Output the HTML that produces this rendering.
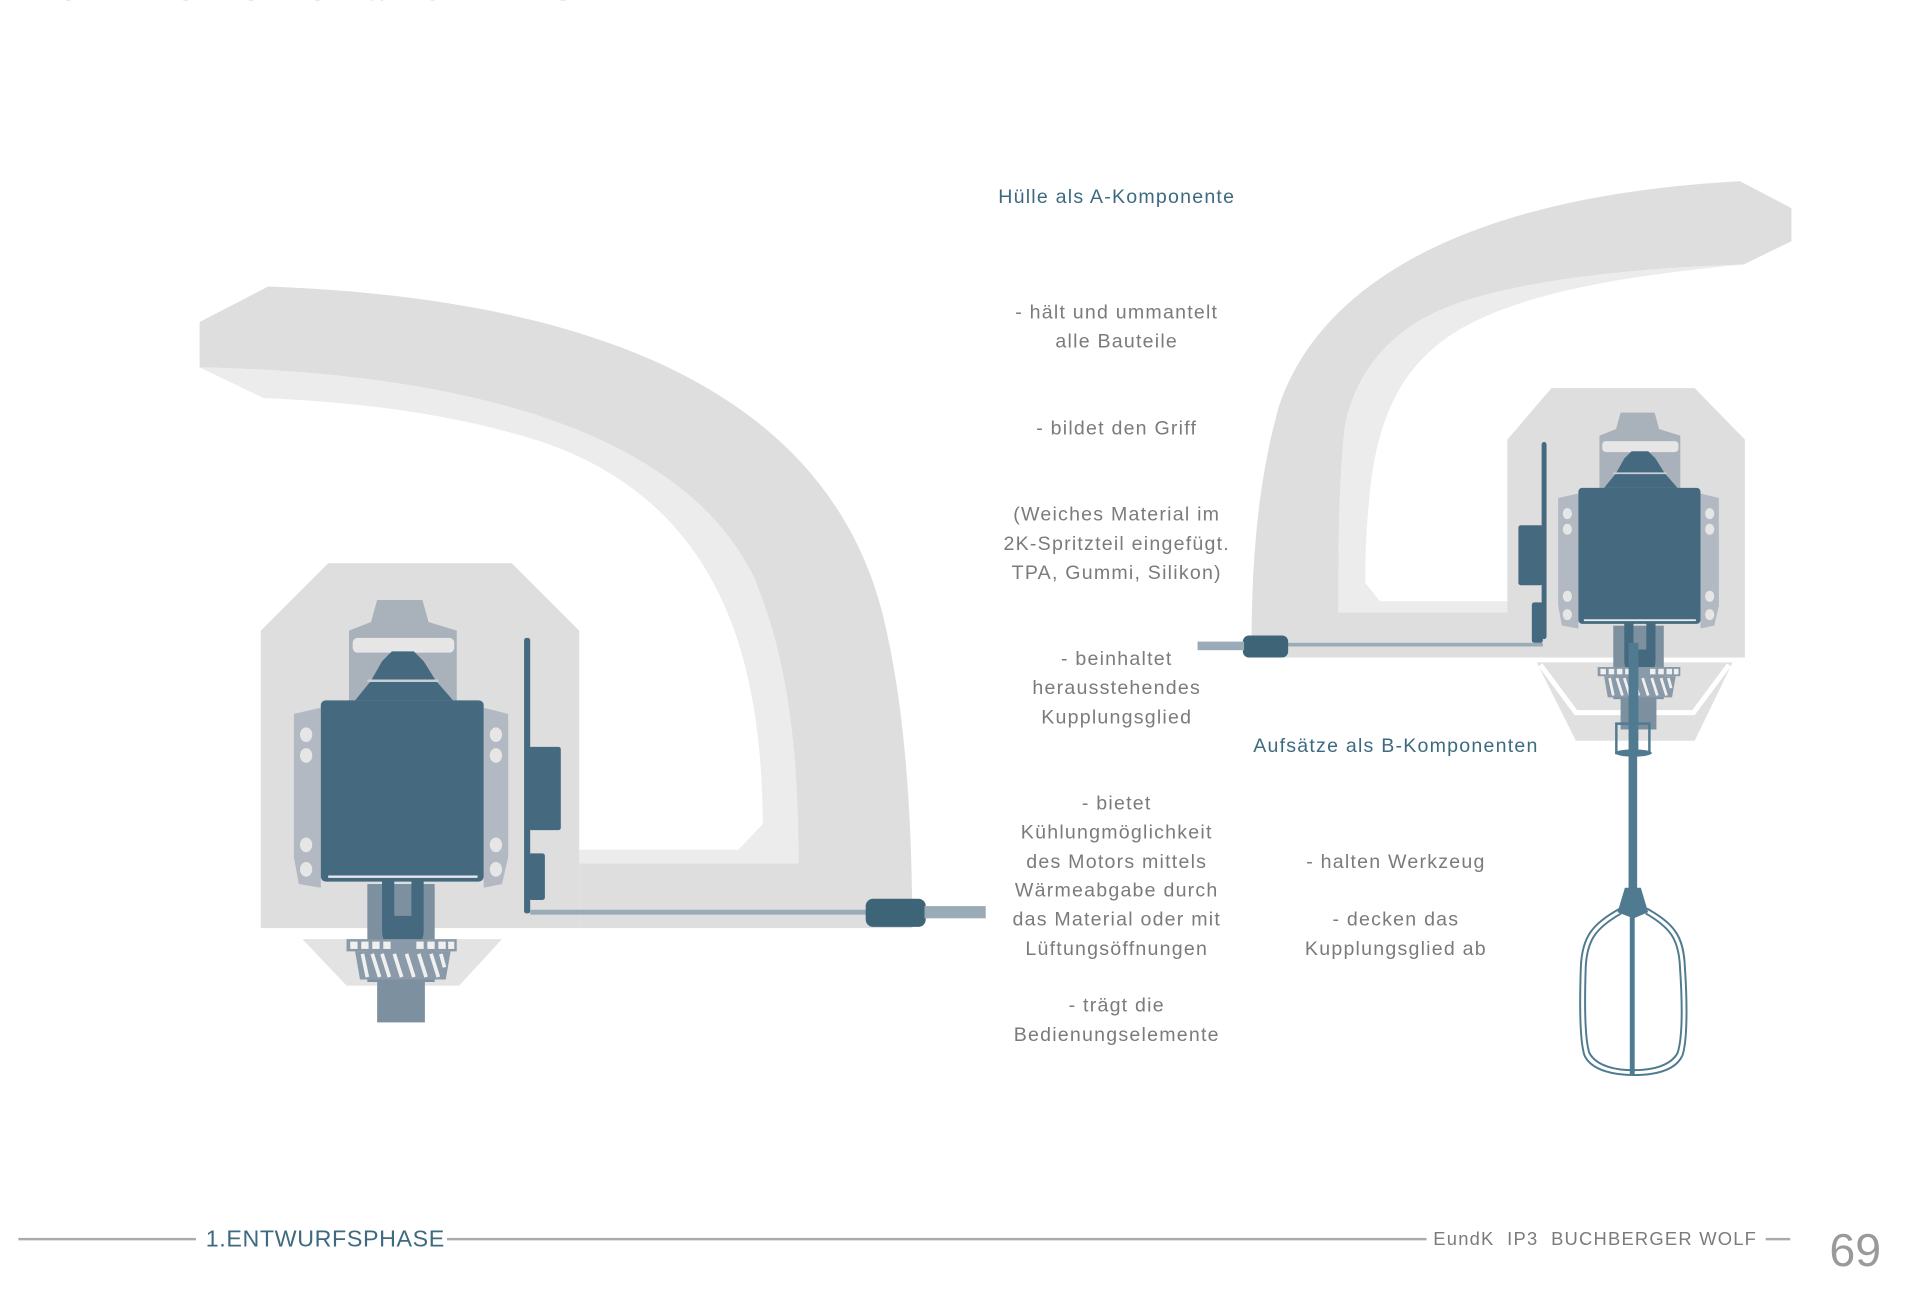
<!DOCTYPE html>
<html><head><meta charset="utf-8"><style>
html,body{margin:0;padding:0;background:#fff;}
svg{display:block;}
text{font-family:"Liberation Sans",sans-serif;}
</style></head><body>
<svg width="1920" height="1293" viewBox="0 0 1568 1056" preserveAspectRatio="none" xmlns="http://www.w3.org/2000/svg">
<defs>
<g id="motor">
  <path d="M308,490 L345,490 L350,508 L373,515 L373,575 L285,575 L285,515 L303,508 Z" fill="#a9b1bb"/>
  <rect x="288" y="521" width="83" height="12" rx="4" fill="#e6e6e6"/>
  <path d="M240,583 L262,578 L262,725 L244,722 L240,700 Z" fill="#b2b9c2"/>
  <path d="M395,578 L415,583 L415,700 L410,722 L395,725 Z" fill="#b2b9c2"/>
  <ellipse cx="250" cy="600" rx="5" ry="6" fill="#e6e6e6"/><ellipse cx="250" cy="617" rx="5" ry="6" fill="#e6e6e6"/>
  <ellipse cx="250" cy="690" rx="5" ry="6" fill="#e6e6e6"/><ellipse cx="250" cy="710" rx="5" ry="6" fill="#e6e6e6"/>
  <ellipse cx="405" cy="600" rx="5" ry="6" fill="#e6e6e6"/><ellipse cx="405" cy="617" rx="5" ry="6" fill="#e6e6e6"/>
  <ellipse cx="405" cy="690" rx="5" ry="6" fill="#e6e6e6"/><ellipse cx="405" cy="710" rx="5" ry="6" fill="#e6e6e6"/>
  <path d="M290,572 L303,556 L312,540 L320,532 L338,532 L346,540 L356,556 L370,572 Z" fill="#456a80"/>
  <path d="M300,556 L358,556" stroke="#c9ced4" stroke-width="2"/>
  <rect x="262" y="572" width="133" height="148" rx="4" fill="#456a80"/>
  <path d="M268,716 L390,716" stroke="#e8e8e8" stroke-width="2"/>
  <rect x="300" y="722" width="55" height="80" fill="#7d90a0"/>
  <rect x="308" y="800" width="39" height="35" fill="#7d90a0"/>
  <path d="M312,718 L312,760 Q312,772 322,772 L336,772 Q346,772 346,760 L346,718 L336,718 L336,748 L322,748 L322,718 Z" fill="#456a80"/>
  <rect x="283" y="767" width="90" height="10" fill="#8a9aa8"/>
  <g fill="#f0f0f0"><rect x="286" y="769" width="6" height="6"/><rect x="295" y="769" width="6" height="6"/><rect x="304" y="769" width="6" height="6"/><rect x="313" y="769" width="6" height="6"/><rect x="340" y="769" width="6" height="6"/><rect x="349" y="769" width="6" height="6"/><rect x="358" y="769" width="6" height="6"/><rect x="366" y="769" width="5" height="6"/></g>
  <path d="M290,777 L368,777 L364,800 L294,800 Z" fill="#8a9aa8"/>
  <path d="M296,779 L300,798 M304,779 L310,798 M312,779 L318,798 M322,779 L328,798 M332,779 L338,798 M342,779 L348,798 M352,779 L358,798 M360,779 L363,790" stroke="#f0f0f0" stroke-width="3"/>
</g>
</defs>

<text x="10" y="0" font-size="22" fill="#4a6575" letter-spacing="3" font-weight="bold" opacity="0.6">BAUTEILESTRUKTUR &amp; KONZEPTSKIZZEN</text>

<!-- LEFT handle -->
<path d="M163,263 L219,234 C520,245 690,340 725,520 C738,580 745,660 745,758 L473,758 L473,705 L652,705 C652,620 645,540 615,470 C560,360 400,305 163,300 Z" fill="#dedede"/>
<path d="M163,300 C400,305 560,360 615,470 C645,540 652,620 652,705 L473,705 L473,694 L603,694 L623,673 C622,540 590,410 440,360 C360,335 280,328 215,325 Z" fill="#ececec"/>
<path d="M213,515 L268,460 L418,460 L473,515 L473,758 L213,758 Z" fill="#dedede"/>
<path d="M247,767 L410,767 L375,805 L283,805 Z" fill="#e3e3e3"/>
<use href="#motor"/>
<rect x="428" y="521" width="5" height="225" rx="2" fill="#456a80"/>
<rect x="432" y="610" width="26" height="68" rx="2" fill="#456a80"/>
<rect x="432" y="697" width="13" height="38" rx="2" fill="#456a80"/>
<rect x="433" y="743" width="276" height="4" fill="#9aabb8"/>
<rect x="707" y="734" width="49" height="23" rx="6" fill="#3e6478"/>
<rect x="755" y="740" width="50" height="10" fill="#9aabb8"/>

<!-- RIGHT handle -->
<path d="M1463,170 L1421,148 C1200,160 1080,230 1045,330 C1025,400 1022,470 1022,537 L1232,537 L1232,500 L1093,500 C1093,450 1093,400 1098,350 C1105,310 1130,273 1177,253 C1230,230 1330,219 1424,216 L1463,197 Z" fill="#dedede"/>
<path d="M1093,500 C1093,450 1093,400 1098,350 C1105,310 1130,273 1177,253 C1230,230 1330,219 1424,216 C1330,225 1220,240 1170,285 C1135,315 1122,360 1118,410 C1115,440 1115,460 1115,476 L1127,491 L1232,491 L1232,500 Z" fill="#ececec"/>
<path d="M1231,359 L1267,317 L1384,317 L1425,359 L1425,537 L1231,537 Z" fill="#dedede"/>
<path d="M1255,541 L1415,541 L1384,605 L1287,605 Z" fill="#e0e0e0"/>
<path d="M1258,543 L1287,582 L1383,582 L1412,543" stroke="#fff" stroke-width="4" fill="none"/>
<use href="#motor" transform="translate(1092.5,-30.5) scale(0.75)"/>
<rect x="1259" y="361" width="4" height="161" rx="2" fill="#456a80"/>
<rect x="1240" y="429" width="20" height="49" rx="2" fill="#456a80"/>
<rect x="1251" y="492" width="9" height="33" rx="2" fill="#456a80"/>
<rect x="1050" y="525" width="210" height="3" fill="#9aabb8"/>
<rect x="1015" y="519" width="37" height="18" rx="5" fill="#3e6478"/>
<rect x="978" y="524" width="38" height="7" fill="#9aabb8"/>
<!-- beater -->
<rect x="1330" y="525" width="8" height="90" fill="#4f7a90"/>
<rect x="1320" y="591" width="27" height="24" fill="none" stroke="#4f7a90" stroke-width="2"/>
<ellipse cx="1334" cy="615" rx="15" ry="3" fill="#4f7a90"/>
<rect x="1330" y="615" width="7" height="115" fill="#4f7a90"/>
<path d="M1327,725 L1340,725 L1346,745 L1334,750 L1321,745 Z" fill="#4f7a90"/>
<path d="M1323,742 C1300,755 1292,765 1291,790 C1290,820 1290,850 1294,862 C1300,875 1320,878 1334,878 C1350,878 1368,875 1374,862 C1378,850 1378,820 1376,790 C1375,765 1368,755 1345,742" fill="none" stroke="#4f7a90" stroke-width="1.6"/>
<path d="M1324,746 C1303,758 1296,768 1295,790 C1294,820 1294,848 1298,860 C1304,871 1320,874 1334,874 C1348,874 1364,871 1370,860 C1374,848 1374,820 1372,790 C1371,768 1365,758 1344,746" fill="none" stroke="#4f7a90" stroke-width="1.6"/>
<rect x="1331" y="745" width="4" height="133" fill="#4f7a90"/>

<g font-size="16" fill="#7b7b7b" text-anchor="middle" letter-spacing="1">
<text x="912" y="166" fill="#3e6a80">Hülle als A-Komponente</text>
<text x="912" y="260">- hält und ummantelt</text>
<text x="912" y="284">alle Bauteile</text>
<text x="912" y="355">- bildet den Griff</text>
<text x="912" y="425">(Weiches Material im</text>
<text x="912" y="449">2K-Spritzteil eingefügt.</text>
<text x="912" y="473">TPA, Gummi, Silikon)</text>
<text x="912" y="543">- beinhaltet</text>
<text x="912" y="567">herausstehendes</text>
<text x="912" y="591">Kupplungsglied</text>
<text x="912" y="661">- bietet</text>
<text x="912" y="685">Kühlungmöglichkeit</text>
<text x="912" y="709">des Motors mittels</text>
<text x="912" y="732">Wärmeabgabe durch</text>
<text x="912" y="756">das Material oder mit</text>
<text x="912" y="780">Lüftungsöffnungen</text>
<text x="912" y="826">- trägt die</text>
<text x="912" y="850">Bedienungselemente</text>
<text x="1140" y="614" fill="#3e6a80">Aufsätze als B-Komponenten</text>
<text x="1140" y="709">- halten Werkzeug</text>
<text x="1140" y="756">- decken das</text>
<text x="1140" y="780">Kupplungsglied ab</text>
</g>

<rect x="15" y="1011" width="145" height="2" fill="#aaaaaa"/>
<text x="168" y="1018" font-size="19" fill="#3e6a80" letter-spacing="0.5">1.ENTWURFSPHASE</text>
<rect x="365" y="1011" width="800" height="2" fill="#aaaaaa"/>
<text x="1435" y="1017" font-size="15" fill="#7b7b7b" text-anchor="end" letter-spacing="1" xml:space="preserve">EundK  IP3  BUCHBERGER WOLF</text>
<rect x="1442" y="1011" width="20" height="2" fill="#aaaaaa"/>
<text x="1494" y="1034" font-size="38" fill="#9a9a9a">69</text>
</svg>
</body></html>
